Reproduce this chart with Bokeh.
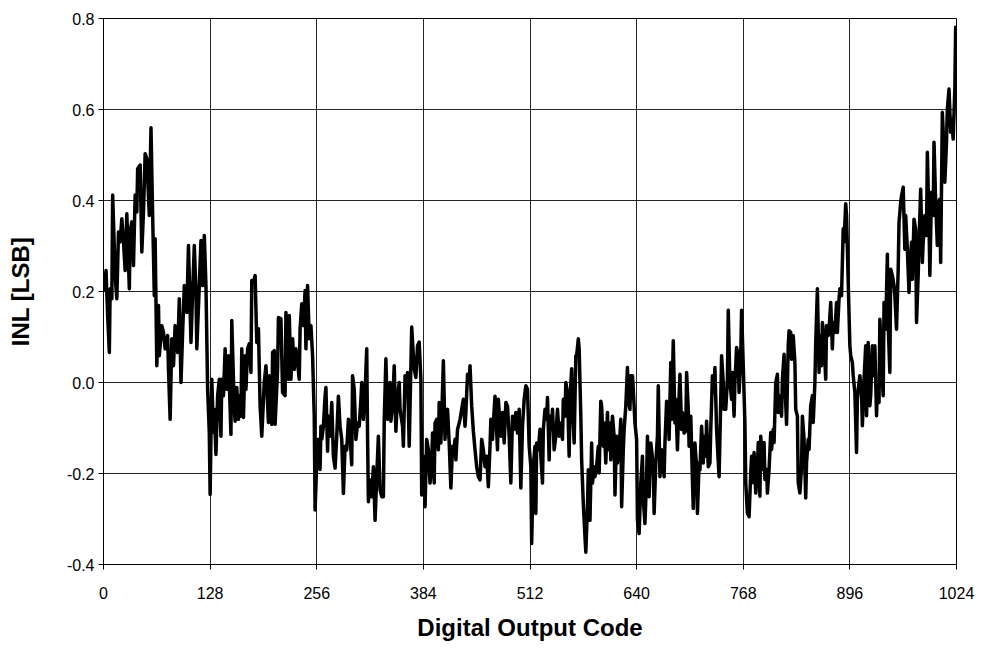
from bokeh.plotting import figure
from bokeh.models import Range1d, FixedTicker, PrintfTickFormatter
from bokeh.embed import file_html
from bokeh.resources import INLINE

# ---- data: INL [LSB] vs digital output code ----
code_0 = [1, 3, 5, 7, 8, 10, 11, 14, 16, 18, 20, 22, 24, 26, 28, 31, 32, 34, 36, 38,
          40, 41, 44, 46, 48, 50, 52, 55, 57, 59, 61, 62, 63, 64, 66, 67, 70, 72, 74, 77,
          78, 80, 82, 84, 86, 89, 91, 93, 95, 97, 100, 102, 105, 107, 109, 111, 112, 115, 117, 119,
          121, 123, 125, 127, 128, 130, 132]
inl_0 = [0.199, 0.246, 0.147, 0.066, 0.206, 0.184, 0.412, 0.235, 0.184, 0.331,
         0.309, 0.360, 0.309, 0.246, 0.371, 0.206, 0.331, 0.353, 0.257, 0.412,
         0.375, 0.470, 0.478, 0.287, 0.375, 0.503, 0.492, 0.367, 0.560, 0.367,
         0.191, 0.316, 0.176, 0.037, 0.169, 0.059, 0.125, 0.110, 0.074, 0.103,
         0.029, -0.081, 0.096, 0.037, 0.125, 0.066, 0.184, 0.0, 0.110, 0.213,
         0.154, 0.301, 0.088, 0.198, 0.301, 0.198, 0.074, 0.213, 0.312, 0.213,
         0.323, 0.213, -0.015, -0.110, -0.246, 0.007, -0.110]

code_1 = [133, 135, 137, 139, 141, 142, 144, 146, 148, 150, 151, 153, 154, 157, 158, 160, 162, 163, 165, 166,
          168, 170, 171, 173, 175, 177, 178, 180, 182, 184, 186, 188, 190, 193, 195, 198, 199, 202, 203, 205,
          206, 209, 210, 213, 215, 218, 219, 222, 223, 225, 227, 229, 231, 233, 235, 236, 238, 240, 242, 243,
          245, 247, 249, 251, 253, 254, 256, 258, 260]
inl_1 = [-0.059, -0.158, -0.029, 0.007, -0.118, 0.007, -0.029, 0.074, -0.015, 0.059,
         0.0, -0.114, 0.136, -0.059, -0.085, -0.011, -0.081, -0.029, -0.074, 0.074,
         -0.077, 0.059, -0.015, 0.074, 0.085, 0.022, 0.224, 0.221, 0.235, 0.088,
         0.118, -0.051, -0.118, 0.0, 0.037, -0.088, 0.015, -0.092, 0.066, 0.070,
         -0.092, 0.029, 0.143, 0.140, -0.022, -0.029, 0.154, 0.007, 0.147, 0.007,
         0.096, 0.029, 0.074, 0.044, 0.007, 0.118, 0.173, 0.125, 0.202, 0.074,
         0.213, 0.096, 0.125, 0.059, -0.074, -0.280, -0.176, -0.125, -0.191]

code_2 = [261, 262, 264, 266, 267, 269, 270, 272, 274, 276, 278, 280, 282, 284, 286, 288, 290, 292, 294, 296,
          298, 299, 301, 303, 305, 307, 309, 310, 312, 314, 316, 317, 318, 320, 322, 324, 326, 328, 330, 332,
          334, 336, 337, 339, 341, 344, 345, 347, 349, 351, 353, 355, 356, 359, 360, 362, 363, 365, 367, 370,
          371, 373, 375, 377, 379, 381, 382, 384, 386, 388]
inl_2 = [-0.096, -0.125, -0.096, -0.030, -0.011, -0.151, -0.074, -0.118, -0.044, -0.162,
         -0.188, -0.118, -0.030, -0.096, -0.125, -0.244, -0.140, -0.148, -0.081, -0.118,
         -0.181, 0.015, -0.015, -0.125, -0.089, -0.096, -0.037, 0.0, -0.081, -0.022,
         0.074, -0.118, -0.262, -0.214, -0.251, -0.185, -0.303, -0.207, -0.118, -0.236,
         -0.251, -0.251, -0.085, 0.052, -0.081, 0.0, -0.085, -0.052, 0.037, -0.107,
         -0.030, 0.0, -0.059, -0.096, -0.140, 0.015, -0.030, 0.022, -0.140, 0.122,
         0.089, 0.030, 0.011, 0.081, 0.089, 0.007, -0.247, -0.162, -0.273, -0.125]

code_3 = [390, 392, 394, 395, 397, 398, 400, 402, 403, 405, 406, 408, 410, 411, 413, 415, 417, 419, 420, 422,
          423, 425, 427, 428, 430, 432, 434, 435, 437, 439, 440, 442, 444, 446, 448, 450, 452, 454, 456, 458,
          460, 462, 464, 465, 467, 468, 470, 473, 474, 477, 479, 481, 483, 485, 487, 489, 491, 493, 495, 497,
          499, 501, 503, 505, 507, 509, 511, 513, 514, 516, 518]
inl_3 = [-0.148, -0.221, -0.177, -0.111, -0.221, -0.089, -0.081, -0.148, -0.044, -0.133,
         -0.081, 0.048, -0.125, -0.074, -0.059, -0.133, -0.232, -0.140, -0.162, -0.125,
         -0.170, -0.103, -0.089, -0.081, -0.059, -0.037, -0.096, -0.066, 0.018, 0.0,
         0.037, -0.052, -0.107, -0.148, -0.185, -0.207, -0.214, -0.125, -0.148, -0.185,
         -0.162, -0.229, -0.140, -0.081, -0.125, -0.089, -0.030, -0.148, -0.037, -0.118,
         -0.066, -0.133, -0.044, -0.052, -0.118, -0.221, -0.074, -0.103, -0.066, -0.111,
         -0.059, -0.232, -0.096, -0.037, -0.007, -0.015, -0.140, -0.185, -0.354, -0.185, -0.140]

code_4 = [519, 520, 522, 524, 525, 527, 528, 530, 532, 533, 535, 536, 538, 539, 541, 543, 545, 547, 549, 551,
          552, 554, 555, 557, 559, 560, 562, 563, 565, 567, 568, 570, 571, 573, 574, 576, 578, 579, 581, 582,
          584, 586, 587, 589, 590, 592, 594, 595, 597, 598, 600, 601, 603, 605, 606, 608, 609, 611, 613, 614,
          616, 617, 619, 621, 622, 624, 625, 627, 629, 630, 632, 633, 635, 636, 638, 640, 641, 643, 645, 647]
inl_4 = [-0.288, -0.133, -0.148, -0.103, -0.162, -0.221, -0.103, -0.059, -0.081, -0.033,
         -0.170, -0.074, -0.103, -0.059, -0.148, -0.118, -0.059, -0.118, -0.089, -0.125,
         -0.037, -0.074, 0.0, -0.022, -0.162, -0.037, 0.030, -0.059, -0.133, 0.059,
         0.059, 0.096, 0.074, -0.074, -0.170, -0.266, -0.339, -0.373, -0.273, -0.192,
         -0.303, -0.133, -0.221, -0.185, -0.207, -0.185, -0.140, -0.199, -0.041, -0.052,
         -0.140, -0.089, -0.177, -0.066, -0.148, -0.089, -0.170, -0.074, -0.118, -0.247,
         -0.118, -0.177, -0.148, -0.081, -0.273, -0.148, -0.103, -0.052, 0.033, -0.037,
         -0.059, 0.015, 0.015, -0.015, -0.089, -0.125, -0.303, -0.332, -0.221, -0.162]

code_5 = [648, 650, 652, 653, 655, 657, 658, 660, 661, 663, 665, 666, 668, 670, 671, 673, 674, 676, 678, 679,
          681, 682, 684, 686, 687, 689, 691, 692, 694, 695, 697, 699, 700, 702, 703, 705, 707, 708, 710, 712,
          713, 715, 716, 718, 720, 721, 723, 724, 726, 728, 729, 731, 733, 734, 736, 737, 739, 741, 742, 744,
          745, 747, 749, 750, 752, 754, 755, 757, 758, 760, 762, 763, 765, 766, 768, 770, 771, 773, 775, 777]
inl_5 = [-0.258, -0.310, -0.207, -0.118, -0.251, -0.133, -0.148, -0.185, -0.288, -0.177,
         -0.118, -0.007, -0.207, -0.148, -0.162, -0.207, -0.133, -0.041, -0.066, -0.125,
         0.044, -0.081, 0.092, -0.089, -0.037, -0.148, -0.030, 0.018, -0.103, -0.066,
         -0.111, -0.107, 0.022, -0.059, -0.140, -0.074, -0.214, -0.277, -0.133, -0.185,
         -0.288, -0.177, -0.192, -0.096, -0.177, -0.118, -0.162, -0.085, -0.185, -0.177,
         -0.103, 0.015, -0.022, 0.033, -0.103, -0.140, -0.207, -0.037, 0.059, 0.0,
         -0.059, -0.059, 0.007, 0.159, 0.0, -0.037, 0.022, -0.074, 0.0, 0.077,
         0.059, -0.022, 0.059, 0.159, 0.037, -0.089, -0.221, -0.288, -0.295, -0.199]

code_6 = [778, 780, 781, 783, 785, 786, 788, 789, 791, 793, 794, 796, 797, 799, 801, 802, 804, 805, 807, 809,
          810, 812, 814, 815, 817, 818, 820, 822, 823, 825, 826, 828, 830, 831, 833, 834, 836, 838, 839, 841,
          843, 844, 846, 847, 849, 851, 852, 854, 855, 857, 859, 860, 862, 863, 865, 867, 868, 870, 871, 873,
          875, 876, 878, 880, 881, 883, 884, 886, 888, 889, 891, 892, 894, 896, 897, 899, 900, 902, 904, 905, 907]
inl_6 = [-0.162, -0.220, -0.154, -0.243, -0.191, -0.132, -0.250, -0.118, -0.191, -0.132,
         -0.213, -0.191, -0.243, -0.191, -0.110, -0.147, -0.103, -0.132, 0.0, 0.018,
         -0.066, -0.029, -0.074, 0.007, 0.062, 0.0, -0.092, 0.081, 0.114, 0.110,
         0.051, 0.103, 0.044, -0.059, -0.074, -0.220, -0.243, -0.184, -0.074, -0.125,
         -0.254, -0.176, -0.125, -0.147, -0.051, -0.029, -0.088, 0.0, 0.088, 0.206,
         0.022, 0.103, 0.037, 0.132, 0.088, 0.007, 0.125, 0.103, 0.118, 0.176,
         0.074, 0.132, 0.110, 0.176, 0.110, 0.184, 0.206, 0.191, 0.338, 0.309,
         0.393, 0.368, 0.221, 0.081, 0.059, 0.044, 0.015, -0.022, -0.154, -0.037, 0.0]

code_7 = [908, 910, 911, 913, 915, 916, 918, 920, 921, 923, 924, 926, 928, 929, 931, 932, 934, 936, 937, 939,
          941, 942, 944, 945, 947, 949, 950, 952, 954, 955, 957, 958, 960, 962, 963, 965, 967, 968, 970, 971,
          973, 975, 976, 978, 979, 981, 983, 984, 986, 988, 989, 991, 992, 994, 996, 997, 999, 1001, 1002, 1004,
          1005, 1007, 1009, 1010, 1012, 1013, 1015, 1017, 1018, 1020, 1022, 1023]
inl_7 = [0.015, -0.022, -0.095, 0.007, 0.081, -0.073, 0.088, -0.051, -0.029, 0.081,
         0.015, 0.081, -0.073, -0.015, -0.044, 0.139, 0.044, -0.029, 0.176, 0.117,
         0.282, 0.125, 0.022, 0.249, 0.235, 0.213, 0.191, 0.117, 0.249, 0.352,
         0.396, 0.410, 0.429, 0.293, 0.367, 0.293, 0.198, 0.249, 0.308, 0.227,
         0.359, 0.337, 0.132, 0.235, 0.308, 0.425, 0.264, 0.308, 0.367, 0.323,
         0.506, 0.352, 0.235, 0.418, 0.367, 0.528, 0.396, 0.301, 0.396, 0.403,
         0.264, 0.594, 0.513, 0.440, 0.528, 0.601, 0.645, 0.550, 0.579, 0.535,
         0.645, 0.784]

x_ticks = [0, 128, 256, 384, 512, 640, 768, 896, 1024]
y_ticks = [-0.4, -0.2, 0.0, 0.2, 0.4, 0.6, 0.8]
x_title = "Digital Output Code"
y_title = "INL [LSB]"

codes = code_0 + code_1 + code_2 + code_3 + code_4 + code_5 + code_6 + code_7
inl = inl_0 + inl_1 + inl_2 + inl_3 + inl_4 + inl_5 + inl_6 + inl_7
n = min(len(codes), len(inl))
codes, inl = codes[:n], inl[:n]

FONT = "Liberation Sans"

p = figure(width=990, height=650, output_backend="svg", toolbar_location=None,
           x_range=Range1d(0, 1024), y_range=Range1d(-0.4, 0.8),
           min_border_left=103, min_border_right=34, min_border_top=18, min_border_bottom=86)
p.background_fill_color = "white"
p.border_fill_color = "white"
p.outline_line_color = "black"
p.outline_line_width = 1

p.line(codes, inl, line_color="black", line_width=3.5, line_join="round")

p.xaxis.ticker = FixedTicker(ticks=x_ticks)
p.yaxis.ticker = FixedTicker(ticks=y_ticks)
p.yaxis.formatter = PrintfTickFormatter(format="%.1f")

p.xgrid.ticker = FixedTicker(ticks=x_ticks)
p.ygrid.ticker = FixedTicker(ticks=y_ticks)
for g in (p.xgrid, p.ygrid):
    g.grid_line_color = "black"
    g.grid_line_width = 1
    g.grid_line_alpha = 0.85

for ax in (p.xaxis, p.yaxis):
    ax.axis_line_color = "black"
    ax.major_tick_line_color = "black"
    ax.minor_tick_line_color = None
    ax.major_tick_in = 0
    ax.major_tick_out = 5
    ax.major_label_text_font = FONT
    ax.major_label_text_font_size = "16px"
    ax.major_label_text_color = "black"
    ax.axis_label_text_font = FONT
    ax.axis_label_text_font_size = "24px"
    ax.axis_label_text_font_style = "bold"
    ax.axis_label_text_color = "black"

p.xaxis.axis_label = x_title
p.yaxis.axis_label = y_title
p.xaxis.major_label_standoff = 17
p.xaxis.axis_label_standoff = 12
p.yaxis.major_label_standoff = 4
p.yaxis.axis_label_standoff = 30

open("out.html", "w").write(file_html(p, INLINE))
